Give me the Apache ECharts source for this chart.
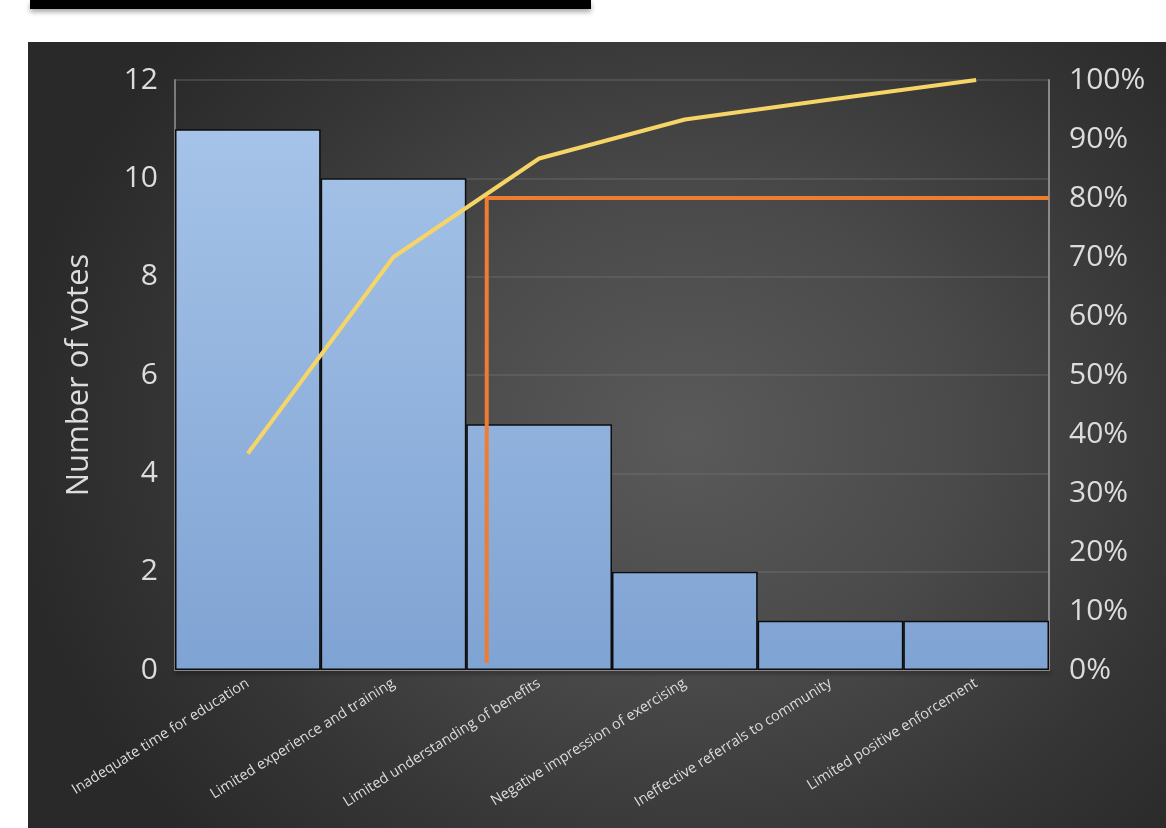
<!DOCTYPE html>
<html>
<head>
<meta charset="utf-8">
<script src="https://cdn.jsdelivr.net/npm/echarts@6/dist/echarts.min.js"></script>
<style>
  html, body { margin: 0; padding: 0; width: 1166px; height: 828px; background: #fff; overflow: hidden; }
  #topbar { position: absolute; left: 30px; top: 0; width: 561px; height: 9px; background: #000; box-shadow: 0 3px 5px rgba(0,0,0,0.35); }
  #panel { position: absolute; left: 28px; top: 42px; width: 1138px; height: 786px;
    background: radial-gradient(ellipse 60% 75% at 58% 50%, #5a5a5a 0%, #4a4a4a 40%, #353535 75%, #292929 100%); }
  #chart { position: absolute; left: 0; top: 0; width: 1166px; height: 828px; }
</style>
</head>
<body>
<div id="topbar"></div>
<div id="panel"></div>
<div id="chart"></div>
<script>
const categories = [
  'Inadequate time for education',
  'Limited experience and training',
  'Limited understanding of benefits',
  'Negative impression of exercising',
  'Ineffective referrals to community',
  'Limited positive enforcement'
];
const votes = [11, 10, 5, 2, 1, 1];
const cumulative = [0.367, 0.70, 0.867, 0.933, 0.967, 1.0];
const threshold = 0.8;
const crossingX = 2.14;   // position on category scale (0..6) where the cutoff line drops
const cutoffBottom = 0.012;
const leftTicks = [0, 2, 4, 6, 8, 10, 12];

const cutoffLine = [[crossingX, cutoffBottom], [crossingX, threshold], [categories.length, threshold]];

const chart = echarts.init(document.getElementById('chart'), null, { renderer: 'canvas' });
const labelColor = '#dcdcdc';
const font = '"Open Sans", sans-serif';

chart.setOption({
  backgroundColor: 'transparent',
  animation: false,
  grid: { left: 175, right: 117, top: 80, bottom: 158, containLabel: false },
  xAxis: [
    {
      type: 'category',
      data: categories,
      boundaryGap: true,
      axisLine: { show: true, lineStyle: { color: '#8a8a8a', width: 2, shadowColor: 'rgba(0,0,0,0.6)', shadowBlur: 4, shadowOffsetY: 2 } },
      axisTick: { show: false },
      axisLabel: { color: labelColor, fontSize: 14.5, fontFamily: font, rotate: 32, margin: 12, interval: 0 },
      splitLine: { show: false }
    },
    {
      type: 'value',
      min: 0, max: categories.length,
      show: false
    }
  ],
  yAxis: [
    {
      type: 'value',
      min: 0, max: 12, interval: 2,
      name: 'Number of votes',
      nameLocation: 'middle',
      nameGap: 80,
      nameTextStyle: { color: labelColor, fontSize: 31, fontFamily: font },
      axisLine: { show: true, lineStyle: { color: '#7a7a7a', width: 2 } },
      axisTick: { show: false },
      axisLabel: { color: labelColor, fontSize: 30, fontFamily: font, margin: 17,
        formatter: v => leftTicks.includes(v) ? String(v) : '' },
      splitLine: { show: true, lineStyle: { color: 'rgba(120,120,120,0.45)', width: 1.5 } }
    },
    {
      type: 'value',
      min: 0, max: 1, interval: 0.1,
      position: 'right',
      axisLine: { show: true, lineStyle: { color: '#8a8a8a', width: 2 } },
      axisTick: { show: false },
      axisLabel: { color: labelColor, fontSize: 30, fontFamily: font, margin: 20,
        formatter: v => Math.round(v * 100) + '%' },
      splitLine: { show: false }
    }
  ],
  series: [
    {
      type: 'bar',
      data: votes,
      barWidth: '100%',
      barCategoryGap: '0%',
      itemStyle: {
        color: new echarts.graphic.LinearGradient(0, 80, 0, 670, [
          { offset: 0, color: '#a9c6ea' },
          { offset: 1, color: '#7fa3d3' }
        ], true),
        borderColor: '#0d0d0d',
        borderWidth: 1.5
      },
      z: 2
    },
    {
      type: 'line',
      yAxisIndex: 1,
      data: cumulative,
      symbol: 'none',
      lineStyle: { color: '#f6d566', width: 4 },
      z: 4
    },
    {
      type: 'line',
      xAxisIndex: 1,
      yAxisIndex: 1,
      data: cutoffLine,
      symbol: 'none',
      lineStyle: { color: '#ee7d31', width: 4, cap: 'butt', join: 'miter' },
      z: 3
    }
  ]
});
</script>
</body>
</html>
